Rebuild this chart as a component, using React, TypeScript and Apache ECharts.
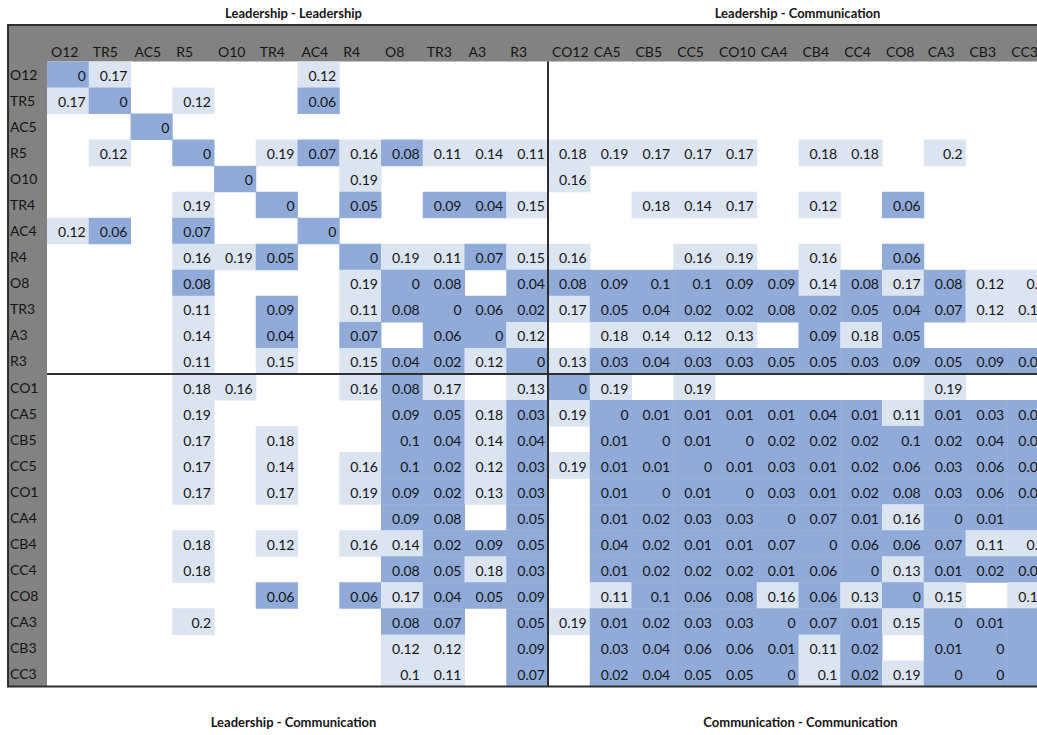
import React, { useEffect, useRef } from "react";
import * as echarts from "echarts";

// Item codes, in the same order for rows and columns
const LABELS = [
  "O12", "TR5", "AC5", "R5", "O10", "TR4", "AC4", "R4", "O8", "TR3", "A3", "R3",
  "CO12", "CA5", "CB5", "CC5", "CO10", "CA4", "CB4", "CC4", "CO8", "CA3", "CB3", "CC3",
];

const _ = null;

// Distance matrix rows (blank = no value shown)
const ROW_O12 = [0, 0.17, _, _, _, _, 0.12, _, _, _, _, _, _, _, _, _, _, _, _, _, _, _, _, _];
const ROW_TR5 = [0.17, 0, _, 0.12, _, _, 0.06, _, _, _, _, _, _, _, _, _, _, _, _, _, _, _, _, _];
const ROW_AC5 = [_, _, 0, _, _, _, _, _, _, _, _, _, _, _, _, _, _, _, _, _, _, _, _, _];
const ROW_R5 = [_, 0.12, _, 0, _, 0.19, 0.07, 0.16, 0.08, 0.11, 0.14, 0.11, 0.18, 0.19, 0.17, 0.17, 0.17, _, 0.18, 0.18, _, 0.2, _, _];
const ROW_O10 = [_, _, _, _, 0, _, _, 0.19, _, _, _, _, 0.16, _, _, _, _, _, _, _, _, _, _, _];
const ROW_TR4 = [_, _, _, 0.19, _, 0, _, 0.05, _, 0.09, 0.04, 0.15, _, _, 0.18, 0.14, 0.17, _, 0.12, _, 0.06, _, _, _];
const ROW_AC4 = [0.12, 0.06, _, 0.07, _, _, 0, _, _, _, _, _, _, _, _, _, _, _, _, _, _, _, _, _];
const ROW_R4 = [_, _, _, 0.16, 0.19, 0.05, _, 0, 0.19, 0.11, 0.07, 0.15, 0.16, _, _, 0.16, 0.19, _, 0.16, _, 0.06, _, _, _];
const ROW_O8 = [_, _, _, 0.08, _, _, _, 0.19, 0, 0.08, _, 0.04, 0.08, 0.09, 0.098, 0.098, 0.09, 0.09, 0.14, 0.08, 0.17, 0.08, 0.12, 0.102];
const ROW_TR3 = [_, _, _, 0.11, _, 0.09, _, 0.11, 0.08, 0, 0.06, 0.02, 0.17, 0.05, 0.04, 0.02, 0.02, 0.08, 0.02, 0.05, 0.04, 0.07, 0.12, 0.11];
const ROW_A3 = [_, _, _, 0.14, _, 0.04, _, 0.07, _, 0.06, 0, 0.12, _, 0.18, 0.14, 0.12, 0.13, _, 0.09, 0.18, 0.05, _, _, _];
const ROW_R3 = [_, _, _, 0.11, _, 0.15, _, 0.15, 0.04, 0.02, 0.12, 0, 0.13, 0.03, 0.04, 0.03, 0.03, 0.05, 0.05, 0.03, 0.09, 0.05, 0.09, 0.07];
const ROW_CO12 = [_, _, _, 0.18, 0.16, _, _, 0.16, 0.08, 0.17, _, 0.13, 0, 0.19, _, 0.19, _, _, _, _, _, 0.19, _, _];
const ROW_CA5 = [_, _, _, 0.19, _, _, _, _, 0.09, 0.05, 0.18, 0.03, 0.19, 0, 0.01, 0.01, 0.01, 0.01, 0.04, 0.01, 0.11, 0.01, 0.03, 0.02];
const ROW_CB5 = [_, _, _, 0.17, _, 0.18, _, _, 0.098, 0.04, 0.14, 0.04, _, 0.01, 0, 0.01, 0, 0.02, 0.02, 0.02, 0.098, 0.02, 0.04, 0.04];
const ROW_CC5 = [_, _, _, 0.17, _, 0.14, _, 0.16, 0.098, 0.02, 0.12, 0.03, 0.19, 0.01, 0.01, 0, 0.01, 0.03, 0.01, 0.02, 0.06, 0.03, 0.06, 0.05];
const ROW_CO10 = [_, _, _, 0.17, _, 0.17, _, 0.19, 0.09, 0.02, 0.13, 0.03, _, 0.01, 0, 0.01, 0, 0.03, 0.01, 0.02, 0.08, 0.03, 0.06, 0.05];
const ROW_CA4 = [_, _, _, _, _, _, _, _, 0.09, 0.08, _, 0.05, _, 0.01, 0.02, 0.03, 0.03, 0, 0.07, 0.01, 0.16, 0, 0.01, 0];
const ROW_CB4 = [_, _, _, 0.18, _, 0.12, _, 0.16, 0.14, 0.02, 0.09, 0.05, _, 0.04, 0.02, 0.01, 0.01, 0.07, 0, 0.06, 0.06, 0.07, 0.11, 0.102];
const ROW_CC4 = [_, _, _, 0.18, _, _, _, _, 0.08, 0.05, 0.18, 0.03, _, 0.01, 0.02, 0.02, 0.02, 0.01, 0.06, 0, 0.13, 0.01, 0.02, 0.02];
const ROW_CO8 = [_, _, _, _, _, 0.06, _, 0.06, 0.17, 0.04, 0.05, 0.09, _, 0.11, 0.098, 0.06, 0.08, 0.16, 0.06, 0.13, 0, 0.15, _, 0.19];
const ROW_CA3 = [_, _, _, 0.2, _, _, _, _, 0.08, 0.07, _, 0.05, 0.19, 0.01, 0.02, 0.03, 0.03, 0, 0.07, 0.01, 0.15, 0, 0.01, 0];
const ROW_CB3 = [_, _, _, _, _, _, _, _, 0.12, 0.12, _, 0.09, _, 0.03, 0.04, 0.06, 0.06, 0.01, 0.11, 0.02, _, 0.01, 0, 0];
const ROW_CC3 = [_, _, _, _, _, _, _, _, 0.102, 0.11, _, 0.07, _, 0.02, 0.04, 0.05, 0.05, 0, 0.102, 0.02, 0.19, 0, 0, 0];

const MATRIX = [
  ROW_O12, ROW_TR5, ROW_AC5, ROW_R5, ROW_O10, ROW_TR4, ROW_AC4, ROW_R4,
  ROW_O8, ROW_TR3, ROW_A3, ROW_R3, ROW_CO12, ROW_CA5, ROW_CB5, ROW_CC5,
  ROW_CO10, ROW_CA4, ROW_CB4, ROW_CC4, ROW_CO8, ROW_CA3, ROW_CB3, ROW_CC3,
];

// Block captions
const TOP_TITLES = ["Leadership - Leadership", "Leadership - Communication"];
const BOTTOM_TITLES = ["Leadership - Communication", "Communication - Communication"];

// Layout: the table runs past the right edge of the visible page
const VIEW_W = 1037;
const H = 735;
const CHART_W = 1070;
const TABLE_LEFT = 8;
const TABLE_TOP = 25;
const GRID_LEFT = 47;
const GRID_TOP = 61.5;
const CELL_W = 41.75;
const CELL_H = 26.04;
const SPLIT = 12;

const FONT = "Lato, 'Open Sans', sans-serif";
const FONT_SIZE = 14;
const DARK = "#91abd8";
const LIGHT = "#dbe4f1";
const HEAD = "#828282";
const INK = "#151515";
const RULE = "#2e2e2e";

const fmt = (v: number) => String(Math.round(v * 100) / 100);

export default function App() {
  const ref = useRef<HTMLDivElement>(null);

  useEffect(() => {
    if (!ref.current) return;
    const chart = echarts.init(ref.current, undefined, { renderer: "svg" });

    const cells: [number, number, number][] = [];
    MATRIX.forEach((row, r) =>
      row.forEach((v, c) => {
        if (v !== null) cells.push([c, r, v as number]);
      })
    );

    const n = LABELS.length;
    const gridW = n * CELL_W;
    const gridH = n * CELL_H;
    const bottom = GRID_TOP + gridH;
    const splitX = GRID_LEFT + SPLIT * CELL_W;
    const splitY = GRID_TOP + SPLIT * CELL_H;
    const leftBlockMid = GRID_LEFT + (SPLIT * CELL_W) / 2 - 4;
    const rightBlockMid = splitX + (SPLIT * CELL_W) / 2 - 1;

    const lineStyle = { stroke: RULE, lineWidth: 2 };

    // one shaded cell with its value right-aligned, spreadsheet style
    const renderCell = (params: any, api: any) => {
      const c = api.value(0);
      const r = api.value(1);
      const v = api.value(2);
      const p = api.coord([c, r]);
      const size = api.size([1, 1]);
      const w = size[0];
      const h = size[1];
      return {
        type: "group",
        children: [
          {
            type: "rect",
            shape: { x: p[0] - w / 2, y: p[1] - h / 2, width: w + 0.5, height: h + 0.5 },
            style: { fill: api.visual("color") },
          },
          {
            type: "text",
            x: p[0] + w / 2 - 3,
            y: p[1] + 1,
            style: {
              text: fmt(v),
              align: "right",
              verticalAlign: "middle",
              fontFamily: FONT,
              fontSize: FONT_SIZE,
              fill: INK,
            },
          },
        ],
      };
    };

    chart.setOption({
      animation: false,
      backgroundColor: "#ffffff",
      grid: {
        left: GRID_LEFT,
        top: GRID_TOP,
        width: gridW,
        height: gridH,
        containLabel: false,
        outerBoundsMode: "none",
      },
      xAxis: [
        {
          type: "category",
          data: LABELS,
          position: "top",
          z: 5,
          axisLine: { show: false },
          axisTick: { show: false },
          axisLabel: { show: false },
          splitLine: { show: false },
        },
        {
          type: "category",
          data: [...LABELS, ""],
          boundaryGap: false,
          position: "top",
          z: 5,
          axisLine: { show: false },
          axisTick: { show: false },
          splitLine: { show: false },
          axisLabel: {
            interval: 0,
            align: "left",
            verticalAlign: "middle",
            padding: [0, 0, 0, 4],
            margin: 10,
            width: 40,
            overflow: "truncate",
            ellipsis: "",
            fontFamily: FONT,
            fontSize: FONT_SIZE,
            color: INK,
          },
        },
      ],
      yAxis: {
        type: "category",
        data: LABELS,
        inverse: true,
        z: 5,
        axisLine: { show: false },
        axisTick: { show: false },
        splitLine: { show: false },
        axisLabel: {
          interval: 0,
          align: "left",
          margin: GRID_LEFT - TABLE_LEFT - 2,
          width: GRID_LEFT - TABLE_LEFT - 3,
          overflow: "truncate",
          ellipsis: "",
          fontFamily: FONT,
          fontSize: FONT_SIZE,
          color: INK,
        },
      },
      visualMap: {
        type: "piecewise",
        show: false,
        dimension: 2,
        seriesIndex: 0,
        pieces: [
          { lte: 0.1, color: DARK },
          { gt: 0.1, color: LIGHT },
        ],
      },
      series: [
        {
          type: "custom",
          xAxisIndex: 0,
          yAxisIndex: 0,
          data: cells,
          renderItem: renderCell,
          encode: { x: 0, y: 1 },
          silent: true,
        },
      ],
      graphic: [
        // header band and row-label column
        {
          type: "rect",
          z: 1,
          shape: { x: TABLE_LEFT, y: TABLE_TOP, width: CHART_W - TABLE_LEFT, height: GRID_TOP - TABLE_TOP },
          style: { fill: HEAD },
        },
        {
          type: "rect",
          z: 1,
          shape: { x: TABLE_LEFT, y: TABLE_TOP, width: GRID_LEFT - TABLE_LEFT, height: bottom - TABLE_TOP },
          style: { fill: HEAD },
        },
        // outer frame
        {
          type: "polyline",
          z: 100,
          shape: {
            points: [
              [CHART_W, TABLE_TOP],
              [TABLE_LEFT, TABLE_TOP],
              [TABLE_LEFT, bottom],
              [CHART_W, bottom],
            ],
          },
          style: { ...lineStyle, fill: null },
        },
        // block dividers
        {
          type: "line",
          z: 100,
          shape: { x1: splitX, y1: GRID_TOP, x2: splitX, y2: bottom },
          style: lineStyle,
        },
        {
          type: "line",
          z: 100,
          shape: { x1: GRID_LEFT, y1: splitY, x2: CHART_W, y2: splitY },
          style: lineStyle,
        },
        // block captions
        ...TOP_TITLES.map((t, i) => ({
          type: "text",
          z: 100,
          x: i === 0 ? leftBlockMid : rightBlockMid,
          y: 13,
          style: {
            text: t,
            align: "center",
            verticalAlign: "middle",
            fontFamily: FONT,
            fontWeight: "bold",
            fontSize: 13,
            fill: INK,
          },
        })),
        ...BOTTOM_TITLES.map((t, i) => ({
          type: "text",
          z: 100,
          x: i === 0 ? leftBlockMid : rightBlockMid + 3,
          y: 722,
          style: {
            text: t,
            align: "center",
            verticalAlign: "middle",
            fontFamily: FONT,
            fontWeight: "bold",
            fontSize: 13,
            fill: INK,
          },
        })),
      ],
    });

    return () => chart.dispose();
  }, []);

  return (
    <div
      style={{
        position: "fixed",
        left: 0,
        top: 0,
        width: VIEW_W,
        height: H,
        overflow: "hidden",
        background: "#fff",
      }}
    >
      <div ref={ref} style={{ width: CHART_W, height: H }} />
    </div>
  );
}
